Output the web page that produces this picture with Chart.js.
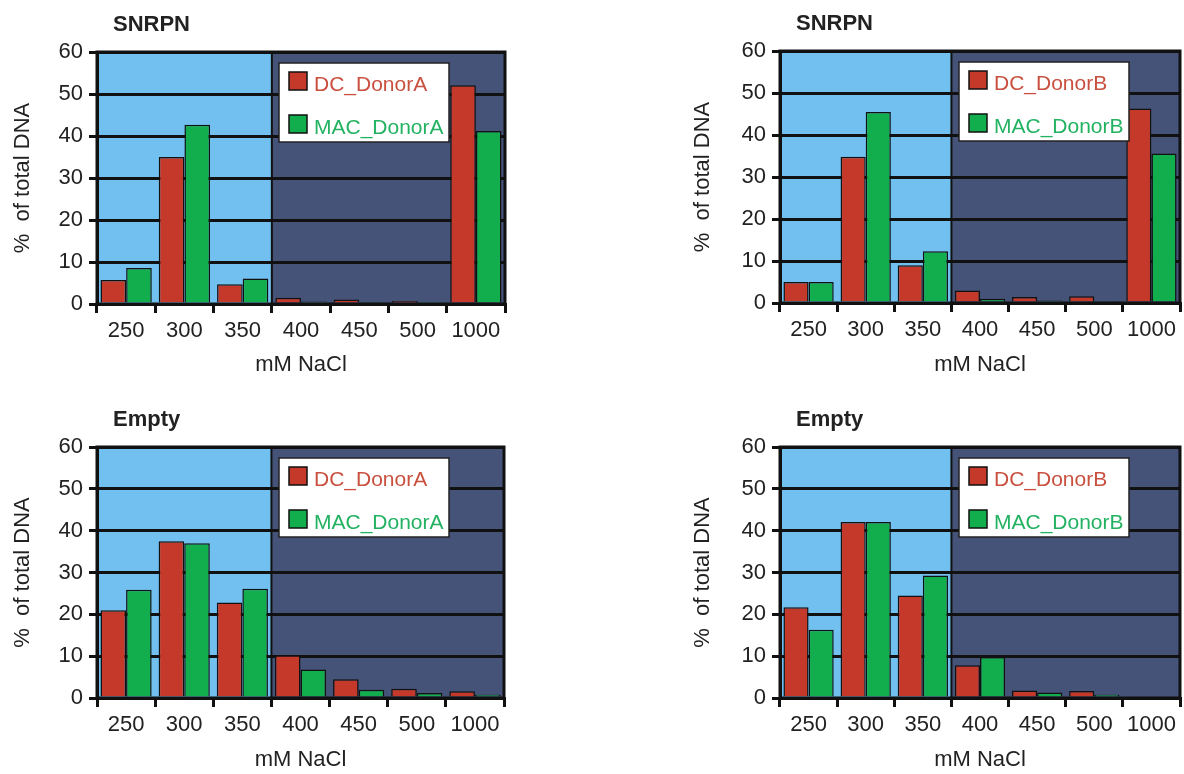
<!DOCTYPE html>
<html>
<head>
<meta charset="utf-8">
<title>Salt elution profiles</title>
<script src="https://cdn.jsdelivr.net/npm/chart.js@4/dist/chart.umd.min.js"></script>
<style>
  body { margin: 0; background: #fff; width: 1184px; height: 774px; overflow: hidden; position: relative; }
  .panel { position: absolute; }
</style>
</head>
<body>
<div class="panel" style="left:0px;top:0px;width:520px;height:390px"><canvas id="snrpn-a"></canvas></div>
<div class="panel" style="left:680px;top:0px;width:504px;height:390px"><canvas id="snrpn-b"></canvas></div>
<div class="panel" style="left:0px;top:395px;width:520px;height:390px"><canvas id="empty-a"></canvas></div>
<div class="panel" style="left:680px;top:395px;width:504px;height:390px"><canvas id="empty-b"></canvas></div>
<script>
// NaCl fractions (mM)
const salt_labels = ["250", "300", "350", "400", "450", "500", "1000"];
const low_salt_count = 3; // first fractions get the light background

// % of total DNA per fraction
const snrpn_dc_a  = [5.7, 35.0, 4.7, 1.5, 1.1, 0.7, 52.1];
const snrpn_mac_a = [8.6, 42.7, 6.1, 0.6, 0.2, 0.1, 41.2];
const snrpn_dc_b  = [5.0, 34.8, 9.0, 3.0, 1.4, 1.6, 46.3];
const snrpn_mac_b = [5.0, 45.5, 12.3, 1.0, 0.6, 0.2, 35.6];
const empty_dc_a  = [21.0, 37.5, 22.8, 10.2, 4.5, 2.2, 1.6];
const empty_mac_a = [25.9, 37.0, 26.1, 6.8, 2.0, 1.2, 0.8];
const empty_dc_b  = [21.7, 42.1, 24.5, 7.8, 1.8, 1.7, 0.4];
const empty_mac_b = [16.3, 42.1, 29.3, 9.8, 1.3, 0.8, 0.4];

const y_min = 0;
const y_max = 60;
const y_step = 10;

const font_family = "'Liberation Sans', Arial, sans-serif";
const bar_colors = ["#c5392a", "#12ae4e"];
const legend_text_colors = ["#c9503f", "#22b261"];

// shaded backdrop, plot frame, panel title and boxed legend
const panel_plugin = {
    id: "panel_plugin",
    beforeDraw(chart) {
        const { ctx, chartArea: a, scales } = chart;
        const x = scales.x;
        const split = (x.getPixelForValue(low_salt_count - 1) + x.getPixelForValue(low_salt_count)) / 2;
        ctx.save();
        ctx.fillStyle = "#71c0ef";
        ctx.fillRect(a.left, a.top, split - a.left, a.bottom - a.top);
        ctx.fillStyle = "#465378";
        ctx.fillRect(split, a.top, a.right - split, a.bottom - a.top);
        ctx.restore();
    },
    afterDatasetsDraw(chart) {
        const { ctx, chartArea: a, scales } = chart;
        const x = scales.x;
        const split = (x.getPixelForValue(low_salt_count - 1) + x.getPixelForValue(low_salt_count)) / 2;
        ctx.save();
        ctx.strokeStyle = "#111";
        ctx.lineWidth = 2;
        ctx.beginPath();
        ctx.moveTo(split, a.top);
        ctx.lineTo(split, a.bottom);
        ctx.stroke();
        ctx.lineWidth = 3;
        ctx.strokeRect(a.left, a.top, a.right - a.left, a.bottom - a.top);

        // panel title
        const title = chart.options.plugins.panel_plugin.title;
        ctx.fillStyle = "#222";
        ctx.font = "bold 22px " + font_family;
        ctx.textBaseline = "middle";
        ctx.textAlign = "left";
        ctx.fillText(title, a.left + 16, a.top - 27);

        // legend box
        const sets = chart.data.datasets;
        ctx.font = "21px " + font_family;
        let text_w = 0;
        sets.forEach(d => { text_w = Math.max(text_w, ctx.measureText(d.label).width); });
        const bw = Math.round(text_w + 40);
        const bh = 79;
        const bx = Math.round(a.left + 0.447 * (a.right - a.left));
        const by = a.top + 11;
        ctx.fillStyle = "#fff";
        ctx.fillRect(bx, by, bw, bh);
        ctx.strokeStyle = "#222";
        ctx.lineWidth = 1.5;
        ctx.strokeRect(bx, by, bw, bh);
        sets.forEach((d, i) => {
            const cy = by + 18 + i * 43;
            ctx.fillStyle = d.backgroundColor;
            ctx.fillRect(bx + 10, cy - 9, 18, 18);
            ctx.strokeStyle = "#111";
            ctx.lineWidth = 1.5;
            ctx.strokeRect(bx + 10, cy - 9, 18, 18);
            ctx.fillStyle = legend_text_colors[i];
            ctx.fillText(d.label, bx + 35, cy + 4);
        });
        ctx.restore();
    }
};

function make_chart(canvas_id, title, dc_values, mac_values, donor, box) {
    return new Chart(canvas_id, {
        type: "bar",
        data: {
            labels: salt_labels,
            datasets: [{
                label: "DC_" + donor,
                data: dc_values,
                backgroundColor: bar_colors[0],
                borderColor: "#111",
                borderWidth: 1.5
            }, {
                label: "MAC_" + donor,
                data: mac_values,
                backgroundColor: bar_colors[1],
                borderColor: "#111",
                borderWidth: 1.5
            }]
        },
        options: {
            responsive: true,
            maintainAspectRatio: false,
            animation: false,
            layout: { padding: { top: box.top, right: box.right, left: 0, bottom: 0 } },
            datasets: { bar: { categoryPercentage: 0.88, barPercentage: 1.0 } },
            plugins: {
                legend: { display: false },
                tooltip: { enabled: false },
                panel_plugin: { title: title }
            },
            scales: {
                x: {
                    afterFit: (scale) => { scale.height = box.axis_h; },
                    grid: {
                        offset: true,
                        drawOnChartArea: false,
                        color: "#111",
                        lineWidth: 3,
                        tickLength: 9
                    },
                    border: { color: "#111", width: 3 },
                    ticks: { color: "#222", font: { family: font_family, size: 22 }, padding: 5, maxRotation: 0 },
                    title: {
                        display: true,
                        text: "mM NaCl",
                        color: "#222",
                        font: { family: font_family, size: 22 },
                        padding: { top: 0, bottom: 12 }
                    }
                },
                y: {
                    min: y_min,
                    max: y_max,
                    afterFit: (scale) => { scale.width = box.axis_w; },
                    ticks: { stepSize: y_step, color: "#222", font: { family: font_family, size: 22 }, padding: 6 },
                    grid: { color: "#111", lineWidth: 3, tickLength: 8 },
                    border: { color: "#111", width: 3 },
                    title: {
                        display: true,
                        text: "%  of total DNA",
                        color: "#222",
                        font: { family: font_family, size: 22 },
                        padding: { top: 10, bottom: 0 }
                    }
                }
            }
        },
        plugins: [panel_plugin]
    });
}

make_chart("snrpn-a", "SNRPN", snrpn_dc_a, snrpn_mac_a, "DonorA", { top: 52, right: 15, axis_w: 97, axis_h: 86 });
make_chart("snrpn-b", "SNRPN", snrpn_dc_b, snrpn_mac_b, "DonorB", { top: 51, right: 4, axis_w: 100, axis_h: 87 });
make_chart("empty-a", "Empty", empty_dc_a, empty_mac_a, "DonorA", { top: 52, right: 16, axis_w: 97, axis_h: 87 });
make_chart("empty-b", "Empty", empty_dc_b, empty_mac_b, "DonorB", { top: 52, right: 4, axis_w: 100, axis_h: 87 });
</script>
</body>
</html>
